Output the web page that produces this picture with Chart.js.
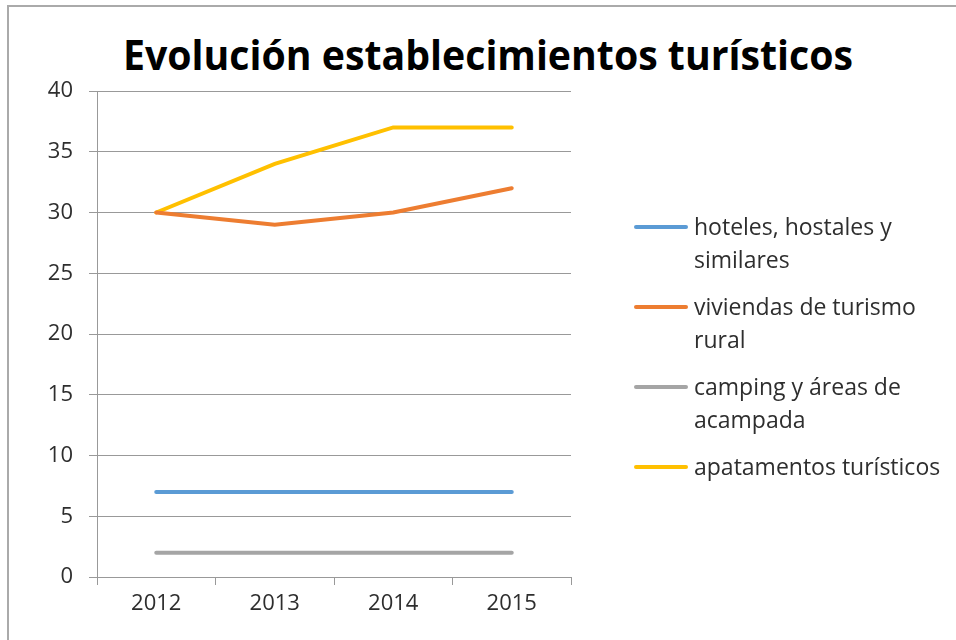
<!DOCTYPE html>
<html>
<head>
<meta charset="utf-8">
<script src="https://cdn.jsdelivr.net/npm/chart.js@4.4.1/dist/chart.umd.min.js"></script>
<style>
  html, body { margin: 0; padding: 0; background: #fff; }
  #wrap { position: relative; width: 956px; height: 640px; overflow: hidden; font-family: 'Open Sans', sans-serif; }
  #frame { position: absolute; left: 7px; top: 5px; right: -10px; bottom: -10px; border-top: 2px solid #aaa; border-left: 2px solid #aaa; }
  #title { position: absolute; top: 34px; left: 488px; font: bold 41px/1 'Open Sans', sans-serif; color: #000; white-space: nowrap; transform-origin: 0 0; }
  #legend { position: absolute; left: 634px; top: 210px; width: 322px; }
  .item { position: relative; padding-left: 60px; width: 262px; font-size: 23px; line-height: 33px; color: #2e2e2e; margin-bottom: 14px; }
  .swatch { position: absolute; left: 0; top: 15px; width: 54px; height: 4px; border-radius: 2px; }
  canvas { position: absolute; left: 0; top: 0; }
</style>
</head>
<body>
<div id="wrap">
  <div id="frame"></div>
  <div id="title">Evolución establecimientos turísticos</div>
  <canvas id="c" width="956" height="640"></canvas>
  <div id="legend"></div>
</div>
<script>
// ── data ──
const years = ['2012', '2013', '2014', '2015'];
const seriesNames = ['hoteles, hostales y similares', 'viviendas de turismo rural', 'camping y áreas de acampada', 'apatamentos turísticos'];
const hoteles = [7, 7, 7, 7];
const viviendas = [30, 29, 30, 32];
const camping = [2, 2, 2, 2];
const apartamentos = [30, 34, 37, 37];
const yTicks = [0, 5, 10, 15, 20, 25, 30, 35, 40];

const colors = ['#5B9BD5', '#ED7D31', '#A5A5A5', '#FFC000'];
const values = [hoteles, viviendas, camping, apartamentos];

// title: squeeze to match the condensed original
const t = document.getElementById('title');
const w = t.getBoundingClientRect().width;
const sx = 730 / w;
t.style.transform = 'scaleX(' + sx + ') translateX(-50%)';

// legend
const leg = document.getElementById('legend');
seriesNames.forEach((name, i) => {
  const d = document.createElement('div');
  d.className = 'item';
  d.innerHTML = '<span class="swatch" style="background:' + colors[i] + '"></span>' + name;
  leg.appendChild(d);
});

const gridCol = '#999';
const tickFont = { family: 'Open Sans', size: 22 };

new Chart(document.getElementById('c').getContext('2d'), {
  type: 'line',
  data: {
    labels: years,
    datasets: seriesNames.map((name, i) => ({
      label: name, data: values[i], borderColor: colors[i], backgroundColor: colors[i],
      borderWidth: 4, pointRadius: 0, tension: 0.0, borderCapStyle: 'round'
    }))
  },
  options: {
    responsive: false,
    animation: false,
    layout: { padding: { top: 91, right: 385, left: 0, bottom: 0 } },
    plugins: { legend: { display: false }, title: { display: false }, tooltip: { enabled: false } },
    scales: {
      x: {
        offset: true,
        grid: { offset: true, drawOnChartArea: false, drawTicks: true, tickLength: 8, color: gridCol, lineWidth: 1 },
        border: { display: true, color: gridCol, width: 1 },
        ticks: { font: tickFont, color: '#2e2e2e', padding: 6, maxRotation: 0 },
        afterFit: s => { s.height = 63; }
      },
      y: {
        min: 0, max: 40,
        afterBuildTicks: s => { s.ticks = yTicks.map(v => ({ value: v })); },
        grid: { color: gridCol, lineWidth: 1, tickLength: 8 },
        border: { display: true, color: gridCol, width: 1 },
        ticks: { font: tickFont, color: '#2e2e2e', padding: 16 },
        afterFit: s => { s.width = 97; }
      }
    }
  }
});
</script>
</body>
</html>
